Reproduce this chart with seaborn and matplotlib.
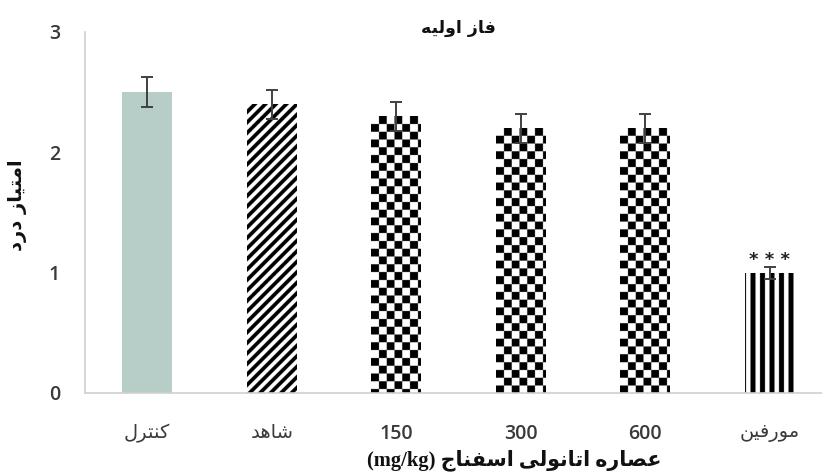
import numpy as np
import matplotlib
matplotlib.use("Agg")
import matplotlib.pyplot as plt
import seaborn as sns

# data
groups = ["کنترل", "شاهد", "150", "300", "600", "مورفین"]
pain_score = [2.5, 2.4, 2.3, 2.2, 2.2, 1.0]
sem = [0.125, 0.12, 0.12, 0.12, 0.12, 0.05]
fills = ["solid", "diag", "checker", "checker", "checker", "vert"]
title = "فاز اولیه"
ylab = "امتیاز درد"
xlab = "عصاره اتانولی اسفناج"

# matplotlib has no arabic shaping, so pick presentation forms by hand
FORMS = {
    "ا": (0xFE8D, 0xFE8E, None, None),
    "ت": (0xFE95, 0xFE96, 0xFE97, 0xFE98),
    "ج": (0xFE9D, 0xFE9E, 0xFE9F, 0xFEA0),
    "د": (0xFEA9, 0xFEAA, None, None),
    "ر": (0xFEAD, 0xFEAE, None, None),
    "ز": (0xFEAF, 0xFEB0, None, None),
    "س": (0xFEB1, 0xFEB2, 0xFEB3, 0xFEB4),
    "ش": (0xFEB5, 0xFEB6, 0xFEB7, 0xFEB8),
    "ص": (0xFEB9, 0xFEBA, 0xFEBB, 0xFEBC),
    "ع": (0xFEC9, 0xFECA, 0xFECB, 0xFECC),
    "ف": (0xFED1, 0xFED2, 0xFED3, 0xFED4),
    "ل": (0xFEDD, 0xFEDE, 0xFEDF, 0xFEE0),
    "م": (0xFEE1, 0xFEE2, 0xFEE3, 0xFEE4),
    "ن": (0xFEE5, 0xFEE6, 0xFEE7, 0xFEE8),
    "ه": (0xFEE9, 0xFEEA, 0xFEEB, 0xFEEC),
    "و": (0xFEED, 0xFEEE, None, None),
    "ی": (0xFBFC, 0xFBFD, 0xFBFE, 0xFBFF),
    "ک": (0xFB8E, 0xFB8F, 0xFB90, 0xFB91),
}


def fa(s):
    if not any(ch in FORMS for ch in s):
        return s
    out = []
    for i, ch in enumerate(s):
        if ch not in FORMS:
            out.append(ch)
            continue
        prev = s[i - 1] if i > 0 else ""
        nxt = s[i + 1] if i + 1 < len(s) else ""
        iso, fin, ini, med = FORMS[ch]
        jp = prev in FORMS and FORMS[prev][2] is not None
        jn = nxt in FORMS and ini is not None
        code = med if (jp and jn) else fin if jp else ini if jn else iso
        out.append(chr(code))
    return "".join(reversed(out))


sns.set_style("white")
plt.rcParams["font.family"] = ["DejaVu Sans"]

fig = plt.figure(figsize=(8.22, 4.74), dpi=100)
ax = fig.add_axes([0.1034, 0.171, 0.909, 0.7616])

labels = [fa(g) for g in groups]
colors = ["#b6cec7" if f == "solid" else "white" for f in fills]
sns.barplot(x=labels, y=pain_score, hue=labels, palette=colors, width=0.4,
            errorbar=None, legend=False, saturation=1, ax=ax)
ax.set_xlim(-0.5, 5.5)
ax.set_ylim(0, 3)


def pattern_fill(p, kind):
    # paint a black/white pattern (in pixel units) clipped to the bar
    bb = p.get_bbox()
    (x0, y0), (x1, y1) = ax.transData.transform([(bb.x0, bb.y0), (bb.x1, bb.y1)])
    w, h = x1 - x0, y1 - y0
    xs = np.arange(0, w, 0.25)
    ys = np.arange(0, h, 0.25)
    X, Y = np.meshgrid(xs, ys)
    if kind == "checker":
        s = 7.8
        Yt = h - Y
        img = ((X // s) + (Yt // s)) % 2
    elif kind == "diag":
        per = 10.5
        img = ((X - Y) % per) < per * 0.5
    else:
        per = 9.5
        img = ((X + 4.0) % per) < per * 0.52
    im = ax.imshow(img.astype(float), cmap="gray_r", vmin=0, vmax=1,
                   origin="lower", aspect="auto", interpolation="antialiased",
                   extent=(bb.x0, bb.x1, bb.y0, bb.y1),
                   zorder=p.get_zorder() + 0.1)
    im.set_clip_path(p)


patches = ax.patches[:len(groups)]
for p, f in zip(patches, fills):
    p.set_linewidth(0)
    if f != "solid":
        pattern_fill(p, f)

ax.errorbar(range(len(groups)), pain_score, yerr=sem, fmt="none",
            ecolor="#404040", elinewidth=1.4, capsize=4, capthick=1.4, zorder=5)

ax.text(5, pain_score[5] + sem[5] + 0.01, "* * *", ha="center", va="baseline",
        fontsize=13, fontweight="bold", color="#222222", zorder=6)

ax.set_xlim(-0.5, 5.5)
ax.set_ylim(0, 3)
ax.set_yticks([0, 1, 2, 3])
ax.set_xticks(range(len(groups)))
ax.set_xticklabels(labels)
ax.set_xticks(np.arange(0.5, 5.5, 1), minor=True)
ax.tick_params(axis="x", which="major", length=0, pad=22)
ax.tick_params(axis="x", which="minor", length=5, color="#cccccc", width=1)
ax.tick_params(axis="y", length=5, color="#cccccc", width=1, pad=13)
for t in ax.get_yticklabels():
    t.set_family(["Open Sans", "DejaVu Sans"])
    t.set_fontsize(14)
    t.set_fontweight("semibold")
    t.set_color("#3a3a3a")
for t in ax.get_xticklabels():
    t.set_family(["Open Sans", "DejaVu Sans"])
    t.set_fontsize(14)
    t.set_color("#3a3a3a")
    if t.get_text().isdigit():
        t.set_fontweight("semibold")

sns.despine(ax=ax)
for s in ["left", "bottom"]:
    ax.spines[s].set_color("#d0d0d0")
    ax.spines[s].set_linewidth(1.2)

ax.set_title(fa(title), fontsize=12.5, fontweight="bold", pad=-1, color="#111111")
ax.set_ylabel(fa(ylab), fontsize=14, fontweight="bold", color="#111111")
ax.yaxis.set_label_coords((27 - 85) / 747, 0.52)
ax.set_xlabel("(mg/kg) " + fa(xlab), fontsize=14.8, fontweight="bold",
              family=["Liberation Serif", "DejaVu Sans"], color="#111111")
ax.xaxis.set_label_coords((514 - 85) / 747, (393 - 449) / 361)

fig.savefig("out.png", dpi=100)
